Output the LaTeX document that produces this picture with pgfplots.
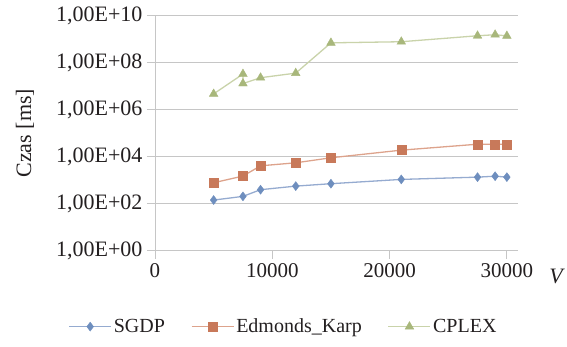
\documentclass[border=0pt]{standalone}
\usepackage{fontspec}
\setmainfont{Liberation Serif}
\usepackage{pgfplots}
\pgfplotsset{compat=1.18}

\definecolor{gridgray}{HTML}{C6C6C6}
\definecolor{txt}{HTML}{231F20}
\definecolor{sgdpM}{HTML}{6E8EBE}
\definecolor{sgdpL}{HTML}{95ABD0}
\definecolor{ekM}{HTML}{C8795A}
\definecolor{ekL}{HTML}{DDA38C}
\definecolor{cpM}{HTML}{A8B77B}
\definecolor{cpL}{HTML}{C9D3AA}

\newcommand{\legfont}{\fontsize{20}{24}\selectfont}
\newcommand{\ytfont}{\fontsize{22}{26}\selectfont}
\newcommand{\xtfont}{\fontsize{21}{25}\selectfont}

\begin{document}
\begin{tikzpicture}
\begin{axis}[
  at={(0,0)}, anchor=south west,
  scale only axis, width=363pt, height=235pt,
  ymode=log, ymin=1, ymax=1e10,
  xmin=0, xmax=30950,
  ytick={1,1e2,1e4,1e6,1e8,1e10},
  yticklabels={{1,00E+00},{1,00E+02},{1,00E+04},{1,00E+06},{1,00E+08},{1,00E+10}},
  yminorticks=false,
  scaled x ticks=false,
  xtick={0,10000,20000,30000},
  xticklabels={0,10000,20000,30000},
  axis x line*=bottom, axis y line*=left,
  axis line style={draw=gridgray, line width=0.9pt, -},
  ymajorgrids, grid style={draw=gridgray, line width=0.9pt},
  tick align=outside, major tick length=8pt,
  tick style={draw=gridgray, line width=0.9pt},
  yticklabel style={font=\ytfont, text=txt, xshift=-1pt},
  xticklabel style={font=\xtfont, text=txt, yshift=-1pt},
  ylabel={\ytfont Czas [ms]},
  ylabel style={at={(axis description cs:-0.358,0.5)}, anchor=center, text=txt},
  xlabel={\ytfont\itshape V},
  xlabel style={at={(axis description cs:1.105,-0.108)}, anchor=center, text=txt},
  legend style={at={(0.354,-0.323)}, anchor=center, draw=none, fill=none,
    font=\legfont, text=txt, legend columns=3,
    /tikz/every even column/.append style={column sep=24pt}},
  legend image code/.code={%
    \draw[mark repeat=2, mark phase=2] plot coordinates {(0pt,0pt) (21pt,0pt) (42pt,0pt)};},
  clip=false,
]
\addplot[draw=sgdpL, line width=1.3pt, mark=diamond*, mark size=4.5pt,
  mark options={draw=sgdpM, fill=sgdpM, line width=0.4pt}] table {
x y
5000 143
7500 205
9000 395
12000 560
15000 710
21000 1080
27500 1350
29000 1480
30000 1350
};
\addlegendentry{SGDP}
\addplot[draw=ekL, line width=1.3pt, mark=square*, mark size=4.5pt,
  mark options={draw=ekM, fill=ekM, line width=0.4pt}] table {
x y
5000 780
7500 1500
9000 4100
12000 5500
15000 9000
21000 19000
27500 34000
29000 34000
30000 34000
};
\addlegendentry{Edmonds\_Karp}
\addplot[draw=cpL, line width=1.3pt, mark=triangle*, mark size=5pt,
  mark options={draw=cpM, fill=cpM, line width=0.4pt}] table {
x y
5000 4.7e6
7500 3.3e7
7500 1.3e7
9000 2.3e7
12000 3.6e7
15000 7e8
21000 7.8e8
27500 1.4e9
29000 1.55e9
30000 1.38e9
};
\addlegendentry{CPLEX}
\end{axis}
\pgfresetboundingbox
\path (-155pt,-95.3pt) rectangle (412pt,250.7pt);
\end{tikzpicture}
\end{document}
